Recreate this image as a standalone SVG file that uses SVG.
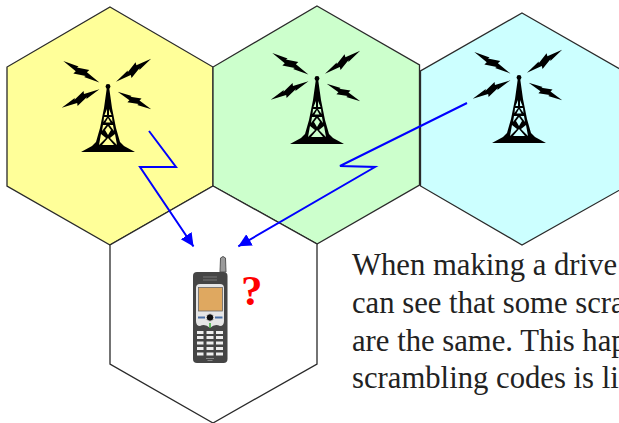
<svg xmlns="http://www.w3.org/2000/svg" width="619" height="423" viewBox="0 0 619 423">
<style>
.hex{stroke:#2a2a2a;stroke-width:1.3}
.wire{fill:none;stroke:#00f;stroke-width:2;stroke-linejoin:miter}
.txt{font-family:"Liberation Serif",serif;font-size:30.700px;fill:#222}
.q{font-family:"Liberation Serif",serif;font-size:43px;font-weight:bold;fill:#f00}
</style>
<defs>
<marker id="ah" markerUnits="userSpaceOnUse" markerWidth="15" markerHeight="14" refX="13" refY="6.500" orient="auto"><path d="M0 0L13 6.500L0 13z" fill="#00f"/></marker>
<filter id="soft" x="-10%" y="-10%" width="120%" height="120%"><feGaussianBlur stdDeviation="0.450"/></filter>
<path id="bolt" d="M0 0L16 -3L15 -1.500L27 -5.500L26 -2.500L42 0L26 3L27 1.500L15 5.500L16 2.500Z"/>
<g id="mast">
<circle cx="0" cy="6.500" r="2.400"/>
<path fill-rule="evenodd" d="M-1.200 8H1.200L4 28L8 48L12 62L16 66L27 72H-27L-16 66L-12 62L-8 48L-4 28ZM-1 29L-3.500 35H-1ZM1 29L3.500 35H1ZM-4 37H-1L-4.500 42ZM4 37H1L4.500 42ZM0 38L-2.500 42.500H2.500ZM-5 45H-1.500L-6 51ZM5 45H1.500L6 51ZM0 46L-3 50L0 55L3 50ZM-7 54L-2 58L-9 65ZM7 54L2 58L9 65ZM0 58L-6 65H6Z"/>
<use href="#bolt" transform="translate(-44.700 -19) rotate(30.800)"/>
<use href="#bolt" transform="translate(8 1.700) rotate(-33.200)"/>
<use href="#bolt" transform="translate(-46.300 27.700) rotate(-26)"/>
<use href="#bolt" transform="translate(9.700 11.700) rotate(27.500) scale(.9)"/>
</g>
</defs>
<g id="cell-yellow"><path class="hex" fill="#ffff99" d="M110 7L213 67V186L110 245L7 186V67Z"/></g>
<g id="cell-green"><path class="hex" fill="#ccffcc" d="M317 6L419.500 65V185L317 244L213 186V67Z"/></g>
<g id="cell-cyan"><path class="hex" fill="#ccffff" d="M522 13L625 72V187L522 245L420.500 186V71Z"/></g>
<g id="cell-white"><path class="hex" fill="#fff" d="M213 186L317 244V364L213 423L110 364V245Z"/></g>
<g id="tower-1"><use href="#mast" x="108" y="80"/></g>
<g id="tower-2"><use href="#mast" x="317" y="72"/></g>
<g id="tower-3"><use href="#mast" x="519" y="71"/></g>
<g id="connectors">
<path class="wire" marker-end="url(#ah)" d="M149 131L176 167H140L193.500 246.500"/>
<path class="wire" marker-end="url(#ah)" d="M467 103L340 166L375 167L238.300 246.300"/>
</g>
<g id="phone" filter="url(#soft)">
<path d="M220 272L220.500 258Q223 255 225.500 258L226 272Z" fill="#9a9a9a" stroke="#555"/>
<rect x="193" y="272" width="34.500" height="91" rx="4" fill="#454545"/>
<path d="M203 277H217M203 280H217" stroke="#777" stroke-width="1"/>
<path d="M196 288Q196 284 200 284H220Q224 284 224 288V321Q224 326 220 326Q215 323 210 328Q205 323 200 326Q196 326 196 321Z" fill="#e6e6e6"/>
<rect x="198.500" y="287.500" width="24" height="23.500" fill="#dfa860" stroke="#666" stroke-width=".8"/>
<path d="M198 317.500H205M215 317.500H222.500" stroke="#4a6fa5" stroke-width="2"/>
<circle cx="210" cy="317.500" r="3.800" fill="#111" stroke="#ddd" stroke-width="1"/>
<path d="M210 323V328" stroke="#3a3" stroke-width="1.500"/>
<g fill="#eee"><rect x="197" y="331" width="6.500" height="3"/><rect x="206.500" y="331" width="7" height="3"/><rect x="216" y="331" width="7" height="3"/><rect x="197" y="336" width="6.500" height="3"/><rect x="206.500" y="336" width="7" height="3"/><rect x="216" y="336" width="7" height="3"/><rect x="197" y="341.500" width="6.500" height="3"/><rect x="206.500" y="341.500" width="7" height="3"/><rect x="216" y="341.500" width="7" height="3"/><rect x="197" y="347" width="6.500" height="3"/><rect x="206.500" y="347" width="7" height="3"/><rect x="216" y="347" width="7" height="3"/><rect x="197" y="352.500" width="6.500" height="3"/><rect x="206.500" y="352.500" width="7" height="3"/><rect x="216" y="352.500" width="7" height="3"/></g>
<path d="M206 358.500H214M207.500 360.500H212.500" stroke="#888" stroke-width="1"/>
</g>
<g id="label-question"><text class="q" x="241" y="305">?</text></g>
<g id="caption">
<text class="txt" x="352" y="275">When making a drive</text>
<text class="txt" x="352" y="312.500">can see that some scra</text>
<text class="txt" x="352" y="350.500">are the same. This hap</text>
<text class="txt" x="352" y="388">scrambling codes is li</text>
</g>
</svg>
